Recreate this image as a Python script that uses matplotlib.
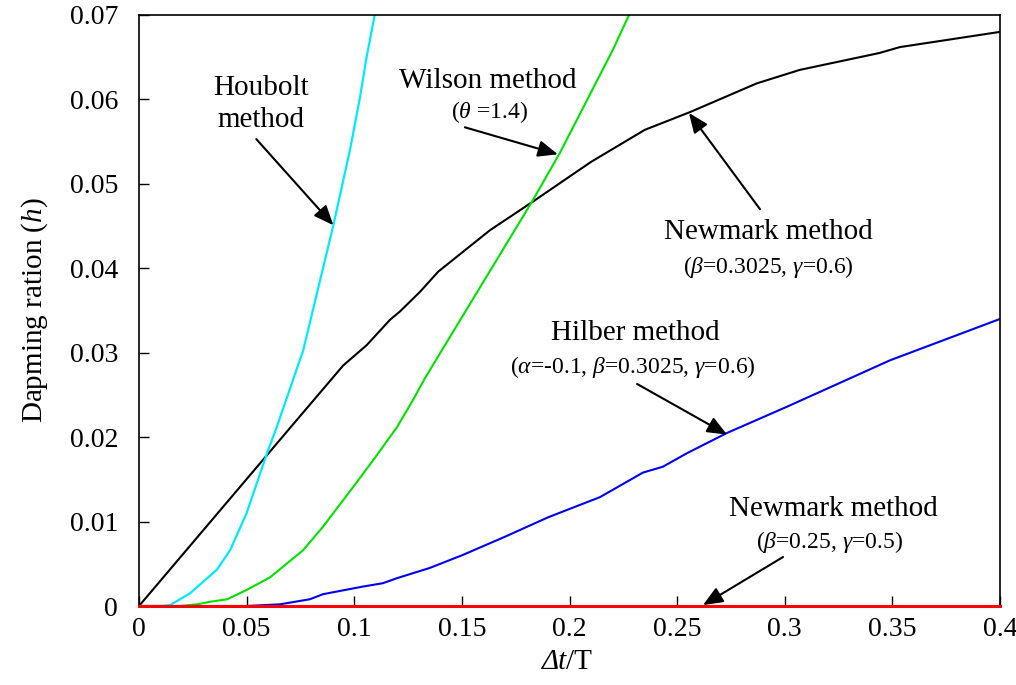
import numpy as np
import matplotlib
matplotlib.use('Agg')
import matplotlib.pyplot as plt

plt.rcParams['font.family'] = 'Liberation Serif'
plt.rcParams['mathtext.fontset'] = 'custom'
plt.rcParams['mathtext.rm'] = 'Liberation Serif'
plt.rcParams['mathtext.it'] = 'Liberation Serif:italic'

# Newmark (beta=0.3025, gamma=0.6)
nm_x = [0, 0.0702, 0.0949, 0.1058, 0.1166, 0.1213, 0.1305, 0.139, 0.163, 0.183, 0.21,
        0.235, 0.256, 0.287, 0.307, 0.344, 0.3535, 0.4]
nm_y = [0, 0.0211, 0.0285, 0.0309, 0.0339, 0.0349, 0.0372, 0.0396, 0.0445, 0.0479, 0.0526,
        0.0564, 0.0585, 0.0619, 0.0635, 0.0655, 0.0662, 0.068]

# Wilson theta=1.4
wil_x = [0, 0.015, 0.019, 0.027, 0.033, 0.041, 0.050, 0.0609, 0.0762, 0.0855,
         0.101, 0.1106, 0.1199, 0.1273, 0.1329, 0.15, 0.165, 0.1826, 0.1956, 0.2202, 0.228]
wil_y = [0, 0, 0, 0.0002, 0.0005, 0.0008, 0.0019, 0.0034, 0.0066, 0.0094,
         0.0146, 0.0179, 0.0212, 0.0244, 0.0270, 0.0342, 0.0405, 0.0479, 0.0537, 0.0659, 0.0702]

# Houbolt
hou_x = [0, 0.0098, 0.0144, 0.0237, 0.0362, 0.0423, 0.050, 0.0595, 0.064,
         0.0763, 0.0903, 0.098, 0.1027, 0.1058, 0.1096]
hou_y = [0, 0, 0.0001, 0.0015, 0.0043, 0.0066, 0.011, 0.0181, 0.0212,
         0.0303, 0.0451, 0.054, 0.0603, 0.0651, 0.0701]

# Hilber (alpha=-0.1)
hil_x = [0, 0.050, 0.0655, 0.0794, 0.0855, 0.104, 0.1133, 0.1199, 0.135, 0.15,
         0.17, 0.19, 0.2142, 0.2341, 0.2434, 0.2546, 0.2732, 0.301, 0.3489, 0.4]
hil_y = [0, 0, 0.0002, 0.0008, 0.0014, 0.0023, 0.0027, 0.0033, 0.0045, 0.006,
         0.0082, 0.0105, 0.0129, 0.0158, 0.0165, 0.0181, 0.0205, 0.0236, 0.0291, 0.034]

# Newmark (beta=0.25, gamma=0.5): no numerical damping
avg_x = [0, 0.4]
avg_y = [0, 0]

fig = plt.figure(figsize=(10.16, 6.85), dpi=100)
ax = fig.add_axes([139/1016, 1 - 606/685, 861/1016, 591/685])

ax.plot(nm_x, nm_y, color='black', lw=1.5)
ax.plot(wil_x, wil_y, color='#00e000', lw=1.5)
ax.plot(hou_x, hou_y, color='#00e8ff', lw=1.6)
ax.plot(hil_x, hil_y, color='#0000ee', lw=1.5)
ax.plot(avg_x, avg_y, color='#ff0000', lw=2.2, clip_on=False, zorder=5)

ax.set_xlim(0, 0.4)
ax.set_ylim(0, 0.07)
ax.set_xticks(np.arange(0, 0.41, 0.05))
ax.set_xticklabels(['0', '0.05', '0.1', '0.15', '0.2', '0.25', '0.3', '0.35', '0.4'])
ax.set_yticks(np.arange(0, 0.071, 0.01))
ax.set_yticklabels(['0', '0.01', '0.02', '0.03', '0.04', '0.05', '0.06', '0.07'])
ax.tick_params(direction='in', length=7, width=1, labelsize=20)
ax.tick_params(axis='x', pad=8)
ax.tick_params(axis='y', pad=15)
for s in ax.spines.values():
    s.set_linewidth(1.2)

# x label: italic "Δt" followed by upright "/T"
fig.text(567/1016, 1 - 662/685, 'Δt', fontsize=21, style='italic', ha='right', va='center')
fig.text(566/1016, 1 - 662/685, '/T', fontsize=21, ha='left', va='center')
ax.set_ylabel(r'Dapming ration ($\mathit{h}$)', fontsize=21, labelpad=14)

arw = dict(arrowstyle='-|>,head_length=1.2,head_width=0.5', color='black', lw=1.5,
           shrinkA=0, shrinkB=0)
big = 21
small = 17

ax.annotate('', xy=(0.0903, 0.0451), xytext=(0.0545, 0.0553), arrowprops=arw)
ax.text(0.0565, 0.0594, 'Houbolt\nmethod', fontsize=big, ha='center', va='center',
        linespacing=1.3)

ax.annotate('', xy=(0.1946, 0.0535), xytext=(0.1514, 0.0567), arrowprops=arw)
ax.text(0.162, 0.0622, 'Wilson method', fontsize=big, ha='center', va='center')
ax.text(0.163, 0.0585, r'($\mathit{\theta}$ =1.4)', fontsize=small, ha='center', va='center')

ax.annotate('', xy=(0.2555, 0.0584), xytext=(0.2885, 0.0470), arrowprops=arw)
ax.text(0.2922, 0.0443, 'Newmark method', fontsize=big, ha='center', va='center')
ax.text(0.2922, 0.0402, r'($\mathit{\beta}$=0.3025, $\mathit{\gamma}$=$\mathit{0.6}$)',
        fontsize=small, ha='center', va='center')

ax.annotate('', xy=(0.2732, 0.0203), xytext=(0.2314, 0.0263), arrowprops=arw)
ax.text(0.2305, 0.0323, 'Hilber method', fontsize=big, ha='center', va='center')
ax.text(0.2296, 0.0283,
        r'($\mathit{\alpha}$=-0.1, $\mathit{\beta}$=0.3025, $\mathit{\gamma}$=$\mathit{0.6}$)',
        fontsize=small, ha='center', va='center')

ax.annotate('', xy=(0.2620, 0.0001), xytext=(0.2992, 0.0058), arrowprops=arw)
ax.text(0.3224, 0.0115, 'Newmark method', fontsize=big, ha='center', va='center')
ax.text(0.3210, 0.0076, r'($\mathit{\beta}$=0.25, $\mathit{\gamma}$=$\mathit{0.5}$)',
        fontsize=small, ha='center', va='center')

fig.savefig('out.png', dpi=100)
